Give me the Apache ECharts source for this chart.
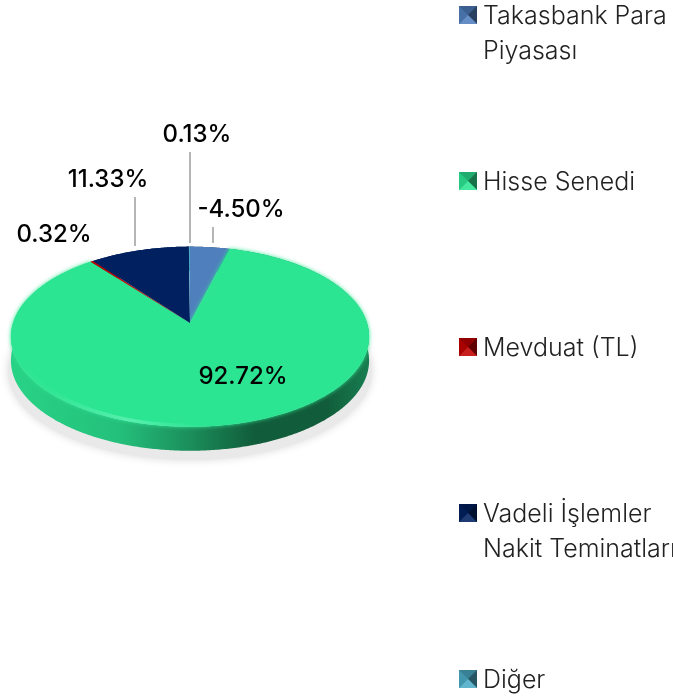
<!DOCTYPE html>
<html><head><meta charset="utf-8">
<style>html,body{margin:0;padding:0;background:#fff;overflow:hidden}#c{width:673px;height:697px}</style>
<script src="https://cdn.jsdelivr.net/npm/echarts@6/dist/echarts.min.js"></script>
</head><body><div id="c"></div>
<script>
const categories = ['Takasbank Para\nPiyasası', 'Hisse Senedi', 'Mevduat (TL)', 'Vadeli İşlemler\nNakit Teminatları', 'Diğer'];
const values = [-4.50, 92.72, 0.32, 11.33, 0.13];
const colors = ['#4f7fbd', '#2be592', '#c00000', '#002060', '#4bacc6'];

const FONT = 'Inter, "Noto Sans", sans-serif';
const legendY = [15, 181, 347, 513, 679];
const labelPos = [[241, 210], [243, 377], [54, 235], [108, 180], [197, 135]];
const leaders = [[213, 227, 243], null, null, [135, 197, 246], [190, 152, 243]];

const pie = {cx: 190, apexY: 323, rx: 177, ry: 88, k: 0.152, depth: 24};
const mags = values.map(Math.abs);
const total = mags.reduce((a, b) => a + b, 0);
const TAU = Math.PI * 2;
const project = (t, f) => {
  const s = f === undefined ? 1 : f;
  const X = Math.sin(t), Y = Math.cos(t), w = 1 + pie.k * Y;
  const ey = pie.apexY + 14; // visual centre of the ellipse
  const x = pie.cx + pie.rx * X / w, y = pie.apexY - pie.ry * Y / w;
  return [pie.cx + (x - pie.cx) * s, ey + (y - ey) * s];
};
const mix = (hex, to, f) => {
  const n = parseInt(hex.slice(1), 16), rgb = [n >> 16, (n >> 8) & 255, n & 255];
  return 'rgb(' + rgb.map(c => Math.round(c + (to - c) * f)).join(',') + ')';
};
const renderSlice = (params, api) => {
  const i = params.seriesIndex, col = colors[i];
  const mag = Math.abs(api.value(0));
  const start = mags.slice(0, i).reduce((a, b) => a + b, 0) / total * TAU;
  const end = start + mag / total * TAU;
  const rim = [], front = [], inner = [];
  const steps = Math.max(2, Math.ceil((end - start) / 0.01));
  for (let s = 0; s <= steps; s++) {
    const t = start + (end - start) * s / steps;
    rim.push(project(t));
    if (Math.cos(t) < -0.05) {
      front.push(project(t));
      inner.push(project(t, 0.965));
    }
  }
  const wallPts = rim.concat(rim.slice().reverse().map(p => [p[0], p[1] + pie.depth]));
  const wallFill = new echarts.graphic.LinearGradient(11, 0, 369, 0, [
    {offset: 0, color: mix(col, 0, 0.08)},
    {offset: 0.3, color: mix(col, 0, 0.16)},
    {offset: 0.5, color: mix(col, 0, 0.38)},
    {offset: 0.68, color: mix(col, 0, 0.6)},
    {offset: 0.88, color: mix(col, 0, 0.6)},
    {offset: 1, color: mix(col, 0, 0.45)}
  ], true);
  const bevelFill = new echarts.graphic.LinearGradient(11, 0, 369, 0, [
    {offset: 0, color: 'rgba(150,255,215,0)'},
    {offset: 0.12, color: 'rgba(150,255,215,0.05)'},
    {offset: 0.33, color: 'rgba(150,255,215,0.4)'},
    {offset: 0.52, color: 'rgba(150,255,215,0)'},
    {offset: 1, color: 'rgba(150,255,215,0)'}
  ], true);
  const y = legendY[i];
  const children = [
    {type: 'polygon', z2: 5, shape: {points: wallPts}, style: {fill: wallFill}},
    {type: 'polygon', z2: 10, shape: {points: [[pie.cx, pie.apexY]].concat(rim)},
      style: {fill: col, shadowBlur: i === 1 ? 4 : 0, shadowColor: col}},
    // legend swatch
    {type: 'rect', z2: 29, shape: {x: 459, y: y - 9, width: 18, height: 18}, style: {fill: mix(col, 0, 0.25)}},
    {type: 'polygon', z2: 30, shape: {points: [[459, y - 9], [477, y - 9], [468, y]]}, style: {fill: mix(col, 0, 0.25)}},
    {type: 'polygon', z2: 30, shape: {points: [[459, y - 9], [459, y + 9], [468, y]]}, style: {fill: mix(col, 0, 0.12)}},
    {type: 'polygon', z2: 30, shape: {points: [[477, y - 9], [477, y + 9], [468, y]]}, style: {fill: mix(col, 0, 0.5)}},
    {type: 'polygon', z2: 30, shape: {points: [[459, y + 9], [477, y + 9], [468, y]]}, style: {fill: mix(col, 255, 0.12)}},
    {type: 'text', z2: 40, style: {text: api.value(0).toFixed(2) + '%', x: labelPos[i][0], y: labelPos[i][1], fill: '#000', fontFamily: FONT, fontSize: 24, fontWeight: 500, align: 'center', verticalAlign: 'middle'}}
  ];
  if (i === 1) {
    children.push({type: 'polygon', z2: 11, shape: {points: front.concat(inner.slice().reverse())}, style: {fill: bevelFill}});
  }
  if (leaders[i]) {
    const l = leaders[i];
    children.push({type: 'line', z2: 20, shape: {x1: l[0], y1: l[1], x2: l[0], y2: l[2]}, style: {stroke: '#b5b5b5', lineWidth: 2}});
  }
  if (i === 0) {
    children.push({type: 'ellipse', z2: 1, shape: {cx: 190, cy: 371, rx: 182, ry: 89},
      style: {fill: '#e9e9e9', shadowBlur: 8, shadowColor: 'rgba(0,0,0,0.15)'}});
  }
  return {type: 'group', children};
};

const option = {
  animation: false,
  backgroundColor: '#fff',
  legend: categories.map((name, i) => ({
    data: [name], left: 456, top: legendY[i] - 16.5, orient: 'vertical', padding: 0,
    itemWidth: 22, itemHeight: 18, itemGap: 0, selectedMode: false,
    itemStyle: {opacity: 0},
    textStyle: {fontFamily: FONT, fontSize: 25, fontWeight: 300, color: '#222', lineHeight: 35}
  })),
  series: categories.map((name, i) => ({
    type: 'custom', name, coordinateSystem: 'none', silent: true,
    renderItem: renderSlice, data: [[values[i]]], itemStyle: {color: colors[i]}
  }))
};
const chart = echarts.init(document.getElementById('c'), null, {renderer: 'canvas'});
chart.setOption(option);
</script></body></html>
